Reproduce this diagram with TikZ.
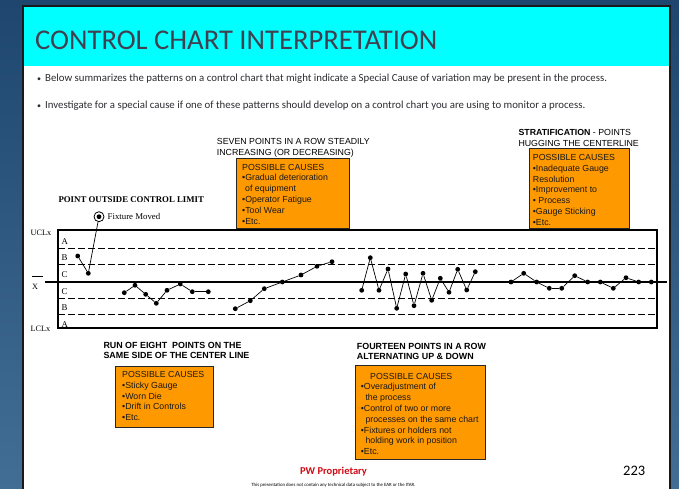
\documentclass[tikz,border=0pt]{standalone}
\usepackage{fontspec}
\setmainfont{Liberation Serif}
\newfontfamily\arialfont{Liberation Sans}
\newfontfamily\slidefont{Carlito}

\definecolor{bgtop}{RGB}{30,70,110}
\definecolor{bgbot}{RGB}{66,110,150}
\definecolor{headcyan}{RGB}{0,255,255}
\definecolor{titlegray}{RGB}{64,64,80}
\definecolor{bodygray}{RGB}{45,45,50}
\definecolor{causeorange}{RGB}{255,153,0}
\definecolor{propred}{RGB}{210,10,20}

\begin{document}
\begin{tikzpicture}[x=1pt,y=-1pt,
  dot/.style={circle,fill=black,inner sep=0pt,minimum size=4.8pt},
  trend/.style={line width=0.7pt},
  zone/.style={line width=0.9pt,dash pattern=on 7pt off 3pt},
  causebox/.style={draw=black!85,line width=0.8pt,fill=causeorange,inner sep=0pt,anchor=north west},
  causetext/.style={anchor=north west,inner sep=0pt,align=left,text=black!90,
    font={\arialfont\fontsize{8.8}{10.8}\selectfont}},
  headtext/.style={anchor=north west,inner sep=0pt,align=left,
    font={\arialfont\fontsize{8.8}{11.2}\selectfont}},
  boldhead/.style={headtext,font={\arialfont\bfseries\fontsize{8.9}{10.7}\selectfont}},
  zonelbl/.style={anchor=base west,inner sep=0pt,font={\fontsize{8.8}{10}\selectfont}},
  limlbl/.style={anchor=base west,inner sep=0pt,font={\fontsize{8.2}{10}\selectfont}},
  bullet/.style={anchor=base west,inner sep=0pt,text=bodygray,font={\slidefont\fontsize{10.8}{12}\selectfont}}
]
\useasboundingbox (0,0) rectangle (679,489);

% backdrop and slide
\shade[top color=bgtop,bottom color=bgbot] (0,0) rectangle (679,489);
\fill[white] (23,6) rectangle (670,492);
\fill[headcyan] (24,7) rectangle (669,66.5);
\draw[line width=1.8pt,black!90] (23,6) rectangle (670,495);

% title and bullets
\node[anchor=base west,inner sep=0pt,text=titlegray,font={\slidefont\fontsize{28.6}{30}\selectfont}]
  (title) at (35,50) {CONTROL CHART INTERPRETATION};
\node[bullet] (b1) at (37,82) {{\fontsize{8}{9}\selectfont•}\hspace{4pt}Below summarizes the patterns on a control chart that might indicate a Special Cause of variation may be present in the process.};
\node[bullet] (b2) at (37,109) {{\fontsize{8}{9}\selectfont•}\hspace{4pt}Investigate for a special cause if one of these patterns should develop on a control chart you are using to monitor a process.};

% chart frame and zone lines
\coordinate (fl) at (58,230);
\coordinate (fr) at (657,328);
\draw[line width=1.3pt] (fl) rectangle (fr);
\foreach \zy in {248,264,298,314}
  \draw[zone] (58,\zy) -- (657,\zy);
\coordinate (cl) at (45,282);
\coordinate (cr) at (667,282);
\draw[line width=1.5pt] (cl) -- (cr);

% zone letters
\node[zonelbl] (za1) at (61.5,244.6) {A};
\node[zonelbl] (zb1) at (61.5,260.6) {B};
\node[zonelbl] (zc1) at (61.5,277) {C};
\node[zonelbl] (zc2) at (61.5,294) {C};
\node[zonelbl] (zb2) at (61.5,310.3) {B};
\node[zonelbl] (za2) at (61.5,327) {A};

% limit labels
\node[limlbl] (ucl) at (30.5,235.5) {UCLx};
\node[limlbl] (lcl) at (30.5,331) {LCLx};
\node[limlbl] (xbar) at (32,289.5) {X};
\draw[line width=0.7pt] (32,276.5) -- (43,276.5);

% point outside control limit
\node[anchor=base west,inner sep=0pt,font={\bfseries\fontsize{8.8}{10}\selectfont}]
  (outhead) at (58.3,202.5) {POINT OUTSIDE CONTROL LIMIT};
\node[circle,draw,line width=0.8pt,minimum size=10pt,inner sep=0pt] (fx) at (99,216.7) {};
\node[dot] (fxd) at (fx) {};
\node[anchor=base west,inner sep=0pt,font={\fontsize{8.8}{10}\selectfont}]
  (fxlbl) at (107.5,219.8) {Fixture Moved};
\node[dot] (a1) at (77.7,256) {};
\node[dot] (a2) at (88.3,273.3) {};
\draw[trend] (a1) -- (a2);
\draw[trend] (a2) -- (fx);

% run of eight below the centre line
\foreach \px/\py [count=\k] in {124.3/292.7,135/285.3,145.7/294.3,156.3/303.3,167/290.3,180.3/284,192.3/291.7,208.3/291.7}
  \node[dot] (r\k) at (\px,\py) {};
\foreach \k [count=\j from 2] in {1,...,7}
  \draw[trend] (r\k) -- (r\j);

% seven rising points
\foreach \px/\py [count=\k] in {235.3/308.7,250.3/300.7,264.3/288.7,282.3/282,301/275,317/266.3,332/261.7}
  \node[dot] (s\k) at (\px,\py) {};
\foreach \k [count=\j from 2] in {1,...,6}
  \draw[trend] (s\k) -- (s\j);

% fourteen alternating points
\foreach \px/\py [count=\k] in {361.7/290.3,370.3/257.7,379/290.3,388/269,396.7/308.3,405.7/274,414/305.7,423/273.3,431.7/300.3,440.3/278.3,449/292.3,457.7/269.3,466.7/290,475.3/271.7}
  \node[dot] (t\k) at (\px,\py) {};
\foreach \k [count=\j from 2] in {1,...,13}
  \draw[trend] (t\k) -- (t\j);

% stratification near the centre line
\foreach \px/\py [count=\k] in {511/282,523.7/273.3,536.7/282,549.3/288.3,561.7/288.3,574.7/275.7,587.7/282,600.3/282,613.3/288.3,626/277.7,638.7/282,651.3/282}
  \node[dot] (h\k) at (\px,\py) {};
\foreach \k [count=\j from 2] in {1,...,11}
  \draw[trend] (h\k) -- (h\j);

% trend headings
\node[headtext] (sevhead) at (216.7,137.7) {SEVEN POINTS IN A ROW STEADILY\\INCREASING (OR DECREASING)};
\node[headtext] (strhead) at (518.3,128.9) {\textbf{STRATIFICATION} - POINTS\\HUGGING THE CENTERLINE};
\node[boldhead] (runhead) at (103.3,341.8) {RUN OF EIGHT\ \ POINTS ON THE\\SAME SIDE OF THE CENTER LINE};
\node[boldhead] (fouhead) at (356.7,342.6) {FOURTEEN POINTS IN A ROW\\ALTERNATING UP \& DOWN};

% possible causes boxes
\node[causebox,minimum width=113pt,minimum height=70.3pt] (box1) at (236,157.7) {};
\node[causetext] (txt1) at (242,163.7) {POSSIBLE CAUSES\\•Gradual deterioration\\\hspace{3pt}of equipment\\•Operator Fatigue\\•Tool Wear\\•Etc.};

\node[causebox,minimum width=100pt,minimum height=79.7pt] (box2) at (529,148.3) {};
\node[causetext] (txt2) at (532.7,154.2) {POSSIBLE CAUSES\\•Inadequate Gauge\\Resolution\\•Improvement to\\•\hspace{2.5pt}Process\\•Gauge Sticking\\•Etc.};

\node[causebox,minimum width=97.4pt,minimum height=61pt] (box3) at (115.3,365.7) {};
\node[causetext] (txt3) at (122,371.2) {POSSIBLE CAUSES\\•Sticky Gauge\\•Worn Die\\•Drift in Controls\\•Etc.};

\node[causebox,minimum width=129.4pt,minimum height=94pt] (box4) at (355.3,365) {};
\node[causetext] (txt4) at (360.7,372.7) {\hspace{9.3pt}POSSIBLE CAUSES\\•Overadjustment of\\\hspace{4.6pt}the process\\•Control of two or more\\\hspace{4.6pt}processes on the same chart\\•Fixtures or holders not\\\hspace{4.6pt}holding work in position\\•Etc.};

% footer
\node[anchor=base,inner sep=0pt,text=propred,font={\slidefont\bfseries\fontsize{10.5}{12}\selectfont}]
  (prop) at (333.5,474.5) {PW Proprietary};
\node[anchor=base west,inner sep=0pt,font={\slidefont\fontsize{14.5}{16}\selectfont}]
  (pgno) at (623,475.5) {223};
\node[anchor=base,inner sep=0pt,font={\slidefont\fontsize{4.8}{5}\selectfont}]
  (itar) at (333.5,486) {This presentation does not contain any technical data subject to the EAR or the ITAR.};
\end{tikzpicture}
\end{document}
